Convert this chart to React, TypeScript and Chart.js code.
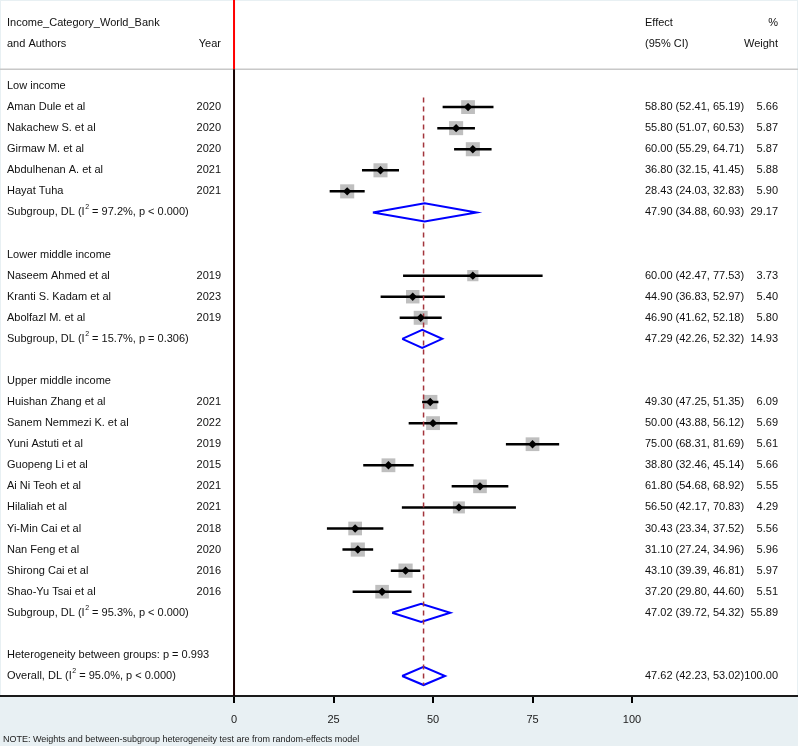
import React, { useEffect, useRef } from "react";
import { Chart, registerables } from "chart.js";
Chart.register(...registerables);

// ---------- data ----------
const groupNames = ["Low income", "Lower middle income", "Upper middle income"];
const studyAuthors = [
  "Aman Dule et al", "Nakachew S. et al", "Girmaw M. et al", "Abdulhenan A. et al", "Hayat Tuha",
  "Naseem Ahmed et al", "Kranti S. Kadam et al", "Abolfazl M. et al",
  "Huishan Zhang et al", "Sanem Nemmezi K. et al", "Yuni Astuti et al", "Guopeng Li et al",
  "Ai Ni Teoh et al", "Hilaliah et al", "Yi-Min Cai et al", "Nan Feng et al", "Shirong Cai et al",
  "Shao-Yu Tsai et al",
];
const studyYears = [2020, 2020, 2020, 2021, 2021, 2019, 2023, 2019, 2021, 2022, 2019, 2015, 2021, 2021, 2018, 2020, 2016, 2016];
const studyGroup = [0, 0, 0, 0, 0, 1, 1, 1, 2, 2, 2, 2, 2, 2, 2, 2, 2, 2];
const studyEffect = [58.8, 55.8, 60.0, 36.8, 28.43, 60.0, 44.9, 46.9, 49.3, 50.0, 75.0, 38.8, 61.8, 56.5, 30.43, 31.1, 43.1, 37.2];
const studyLower = [52.41, 51.07, 55.29, 32.15, 24.03, 42.47, 36.83, 41.62, 47.25, 43.88, 68.31, 32.46, 54.68, 42.17, 23.34, 27.24, 39.39, 29.8];
const studyUpper = [65.19, 60.53, 64.71, 41.45, 32.83, 77.53, 52.97, 52.18, 51.35, 56.12, 81.69, 45.14, 68.92, 70.83, 37.52, 34.96, 46.81, 44.6];
const studyWeight = [5.66, 5.87, 5.87, 5.88, 5.9, 3.73, 5.4, 5.8, 6.09, 5.69, 5.61, 5.66, 5.55, 4.29, 5.56, 5.96, 5.97, 5.51];

const groupEffect = [47.9, 47.29, 47.02];
const groupLower = [34.88, 42.26, 39.72];
const groupUpper = [60.93, 52.32, 54.32];
const groupWeight = [29.17, 14.93, 55.89];
const groupI2 = ["97.2%", "15.7%", "95.3%"];
const groupP = ["p < 0.000", "p = 0.306", "p < 0.000"];

const overallEffect = 47.62;
const overallLower = 42.23;
const overallUpper = 53.02;
const overallWeight = 100.0;
const overallI2 = "95.0%";
const overallP = "p < 0.000";
const betweenGroupsP = "p = 0.993";

const xTicks = [0, 25, 50, 75, 100];
const noteText = "NOTE: Weights and between-subgroup heterogeneity test are from random-effects model";

// ---------- build rows ----------
type Row = {
  kind: "group" | "study" | "sub" | "blank" | "het" | "overall";
  text: string;
  year?: number;
  est?: number;
  lo?: number;
  hi?: number;
  w?: number;
  i2?: string;
  p?: string;
};
const rows: Row[] = [];
groupNames.forEach((g, gi) => {
  rows.push({ kind: "group", text: g });
  studyAuthors.forEach((a, si) => {
    if (studyGroup[si] !== gi) return;
    rows.push({ kind: "study", text: a, year: studyYears[si], est: studyEffect[si], lo: studyLower[si], hi: studyUpper[si], w: studyWeight[si] });
  });
  rows.push({ kind: "sub", text: "Subgroup, DL", est: groupEffect[gi], lo: groupLower[gi], hi: groupUpper[gi], w: groupWeight[gi], i2: groupI2[gi], p: groupP[gi] });
  rows.push({ kind: "blank", text: "" });
});
rows.push({ kind: "het", text: "Heterogeneity between groups: " + betweenGroupsP });
rows.push({ kind: "overall", text: "Overall, DL", est: overallEffect, lo: overallLower, hi: overallUpper, w: overallWeight, i2: overallI2, p: overallP });

const X_MIN = -58.8;
const X_MAX = 141.7;
const Y_MIN = -4.082;
const Y_MAX = 28.95;
const RULE_Y = -0.8;
const FONT = "'Liberation Sans', Arial, Helvetica, sans-serif";

export default function App() {
  const ref = useRef<HTMLCanvasElement | null>(null);
  useEffect(() => {
    const canvas = ref.current!;
    const squares: any[] = [];
    const squareR: number[] = [];
    const markers: any[] = [];
    const ci: any[] = [];
    const diamonds: any[] = [];
    const H = 0.43;
    rows.forEach((r, i) => {
      if (r.kind === "study") {
        squares.push({ x: r.est, y: i });
        squareR.push((5.8 * Math.sqrt(r.w!)) / Math.SQRT2);
        markers.push({ x: r.est, y: i });
        ci.push({ x: r.lo, y: i }, { x: r.hi, y: i }, { x: null, y: null });
      } else if (r.kind === "sub" || r.kind === "overall") {
        diamonds.push(
          { x: r.lo, y: i },
          { x: r.est, y: i - H },
          { x: r.hi, y: i },
          { x: r.est, y: i + H },
          { x: r.lo, y: i },
          { x: null, y: null }
        );
      }
    });
    const lastRow = rows.length - 1;

    const bgPlugin = {
      id: "bg",
      beforeDraw(chart: any) {
        const { ctx, width, height, chartArea } = chart;
        ctx.save();
        ctx.fillStyle = "#e8f0f3";
        ctx.fillRect(0, 0, width, height);
        ctx.fillStyle = "#ffffff";
        ctx.fillRect(1, 1, width - 2, chartArea.bottom - 1);
        ctx.restore();
      },
    };

    const textPlugin = {
      id: "texts",
      afterDraw(chart: any) {
        const { ctx } = chart;
        const ys = chart.scales.y;
        const py = (v: number) => ys.getPixelForValue(v);
        ctx.save();
        ctx.fillStyle = "#111111";
        ctx.textBaseline = "middle";
        const f = `11px ${FONT}`;
        const fs = `7px ${FONT}`;
        const put = (t: string, x: number, y: number, align: CanvasTextAlign) => {
          ctx.font = f;
          ctx.textAlign = align;
          ctx.fillText(t, x, y);
        };
        // header
        put("Income_Category_World_Bank", 7, py(-3), "left");
        put("and Authors", 7, py(-2), "left");
        put("Year", 221, py(-2), "right");
        put("Effect", 645, py(-3), "left");
        put("(95% CI)", 645, py(-2), "left");
        put("%", 778, py(-3), "right");
        put("Weight", 778, py(-2), "right");
        const fmt = (v: number) => v.toFixed(2);
        rows.forEach((r, i) => {
          const y = py(i);
          if (r.kind === "group" || r.kind === "het") {
            put(r.text, 7, y, "left");
          } else if (r.kind === "study") {
            put(r.text, 7, y, "left");
            put(String(r.year), 221, y, "right");
          } else if (r.kind === "sub" || r.kind === "overall") {
            ctx.font = f;
            ctx.textAlign = "left";
            let x = 7;
            const a = r.text + " (I";
            ctx.fillText(a, x, y);
            x += ctx.measureText(a).width;
            ctx.font = fs;
            ctx.fillText("2", x + 0.5, y - 5);
            x += ctx.measureText("2").width + 0.5;
            ctx.font = f;
            ctx.fillText(" = " + r.i2 + ", " + r.p + ")", x, y);
          }
          if (r.est !== undefined) {
            put(`${fmt(r.est)} (${fmt(r.lo!)}, ${fmt(r.hi!)})`, 645, y, "left");
            put(fmt(r.w!), 778, y, "right");
          }
        });
        ctx.font = `9px ${FONT}`;
        ctx.textAlign = "left";
        ctx.fillStyle = "#222";
        ctx.fillText(noteText, 3, 740);
        ctx.restore();
      },
    };

    const chart = new Chart(canvas, {
      type: "scatter",
      data: {
        datasets: [
          { type: "scatter", data: markers, pointStyle: "rectRot", pointRadius: 4.2, backgroundColor: "#000", borderWidth: 0, order: 0 } as any,
          { type: "line", data: [{ x: overallEffect, y: 0.55 }, { x: overallEffect, y: lastRow + 0.42 }], borderColor: "#a3343c", borderWidth: 1.5, borderDash: [5, 4], pointRadius: 0, order: 1 } as any,
          { type: "line", data: ci, borderColor: "#000", borderWidth: 2.5, pointRadius: 0, spanGaps: false, order: 2 } as any,
          { type: "scatter", data: squares, pointStyle: "rect", pointRadius: squareR, backgroundColor: "#bfbfbf", borderWidth: 0, order: 3 } as any,
          { type: "line", data: diamonds, borderColor: "#0000ff", borderWidth: 2, pointRadius: 0, spanGaps: false, order: 4 } as any,
          { type: "line", data: [{ x: 0, y: RULE_Y }, { x: 0, y: Y_MAX }], borderColor: "#1a0000", borderWidth: 2, pointRadius: 0, order: 5 } as any,
          { type: "line", data: [{ x: 0, y: Y_MIN }, { x: 0, y: RULE_Y }], borderColor: "#ff0000", borderWidth: 2, pointRadius: 0, order: 6 } as any,
          { type: "line", data: [{ x: X_MIN, y: RULE_Y }, { x: X_MAX, y: RULE_Y }], borderColor: "#c8c8c8", borderWidth: 1.5, pointRadius: 0, order: 7 } as any,
        ],
      },
      options: {
        animation: false,
        responsive: false,
        devicePixelRatio: 1,
        layout: { padding: 0, autoPadding: false },
        plugins: { legend: { display: false }, tooltip: { enabled: false } },
        events: [],
        scales: {
          x: {
            type: "linear",
            position: "bottom",
            min: X_MIN,
            max: X_MAX,
            afterBuildTicks: (s: any) => {
              s.ticks = xTicks.map((v) => ({ value: v }));
            },
            afterFit: (s: any) => {
              s.height = 50;
            },
            grid: { drawOnChartArea: false, drawTicks: true, tickLength: 7, color: "#000", lineWidth: 2 },
            border: { display: true, color: "#1a1a1a", width: 2 },
            ticks: { font: { family: FONT, size: 11 }, color: "#1a1a1a", padding: 10, maxRotation: 0, autoSkip: false },
          },
          y: { type: "linear", display: false, reverse: true, min: Y_MIN, max: Y_MAX },
        },
      } as any,
      plugins: [bgPlugin, textPlugin],
    });
    return () => chart.destroy();
  }, []);
  return (
    <div style={{ position: "fixed", left: 0, top: 0, width: 798, height: 746 }}>
      <canvas ref={ref} width={798} height={746} style={{ display: "block" }} />
    </div>
  );
}
